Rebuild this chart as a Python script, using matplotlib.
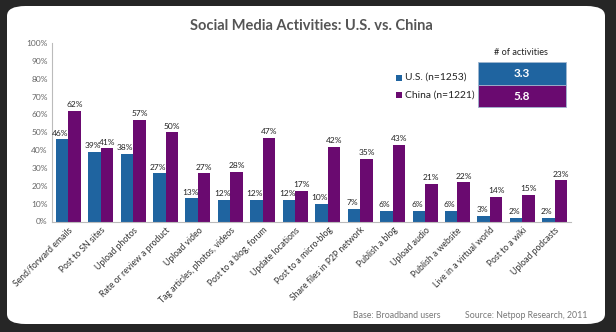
import matplotlib.pyplot as plt
from matplotlib.patches import FancyBboxPatch, Rectangle
import numpy as np

categories = ['Send/forward emails', 'Post to SN sites', 'Upload photos',
              'Rate or review a product', 'Upload video',
              'Tag articles, photos, videos', 'Post to a blog, forum',
              'Update locations', 'Post to a micro-blog',
              'Share files in P2P network', 'Publish a blog', 'Upload audio',
              'Publish a website', 'Live in a virtual world', 'Post to a wiki',
              'Upload podcasts']
us_values = [46, 39, 38, 27, 13, 12, 12, 12, 10, 7, 6, 6, 6, 3, 2, 2]
china_values = [62, 41, 57, 50, 27, 28, 47, 17, 42, 35, 43, 21, 22, 14, 15, 23]
series_names = ['U.S. (n=1253)', 'China (n=1221)']
activities = ['3.3', '5.8']
y_ticks = [0, 10, 20, 30, 40, 50, 60, 70, 80, 90, 100]

US_COLOR = '#1F64A0'
CN_COLOR = '#6A0A70'
FONT = ['Lato', 'DejaVu Sans']

plt.rcParams['font.family'] = FONT

W, H = 616, 332
fig = plt.figure(figsize=(W / 100, H / 100), dpi=100)
fig.patch.set_facecolor('#262626')

# white rounded panel behind everything
panel = FancyBboxPatch((7 / W, 1 - 324 / H), 598 / W, 318 / H,
                       boxstyle='round,pad=0,rounding_size=0.03',
                       transform=fig.transFigure, facecolor='white',
                       edgecolor='none', zorder=-5)
fig.patches.append(panel)

ax = fig.add_axes([52 / W, 1 - 221.5 / H, 519 / W, 178.5 / H])
ax.set_facecolor('none')

x = np.arange(len(categories))
bw = 0.385
ax.bar(x - bw / 2, us_values, bw, color=US_COLOR, label=series_names[0])
ax.bar(x + bw / 2, china_values, bw, color=CN_COLOR, label=series_names[1])

for i in range(len(categories)):
    ax.text(x[i] - bw / 2 - 0.05, us_values[i] + 1.5, f'{us_values[i]}%',
            ha='center', va='bottom', fontsize=6, color='#222222')
    ax.text(x[i] + bw / 2, china_values[i] + 1.5, f'{china_values[i]}%',
            ha='center', va='bottom', fontsize=6, color='#222222')

ax.set_xlim(-0.5, len(categories) - 0.5)
ax.set_ylim(0, 100)
ax.set_yticks(y_ticks)
ax.set_yticklabels([f'{t}%' for t in y_ticks], fontsize=6, color='#666666')
ax.set_xticks(x)
ax.set_xticklabels(categories, rotation=45, ha='right', rotation_mode='anchor',
                   fontsize=6.2, color='#333333')
ax.tick_params(axis='both', length=0, pad=3)
for s in ['top', 'right']:
    ax.spines[s].set_visible(False)
for s in ['left', 'bottom']:
    ax.spines[s].set_color('#BBBBBB')
    ax.spines[s].set_linewidth(0.8)

fig.text(311 / W, 1 - 26 / H, 'Social Media Activities: U.S. vs. China',
         ha='center', va='center', fontsize=10.5, fontweight='bold',
         color='#555555')

# legend
for i, (name, col) in enumerate(zip(series_names, [US_COLOR, CN_COLOR])):
    yc = 77.5 + i * 17.5
    fig.patches.append(Rectangle((396 / W, 1 - (yc + 3) / H), 6 / W, 6 / H,
                                 transform=fig.transFigure, facecolor=col,
                                 edgecolor='none'))
    fig.text(405 / W, 1 - yc / H, name, ha='left', va='center',
             fontsize=7.4, color='#222222')

# activities table
fig.text(521 / W, 1 - 52.5 / H, '# of activities', ha='center', va='center',
         fontsize=6.6, color='#222222')
for i, (val, col) in enumerate(zip(activities, [US_COLOR, CN_COLOR])):
    top = 62 + i * 22.5
    fig.patches.append(Rectangle((478 / W, 1 - (top + 22.5) / H), 88 / W,
                                 22.5 / H, transform=fig.transFigure,
                                 facecolor=col, edgecolor='#9FB6D0',
                                 linewidth=0.6))
    fig.text(522 / W, 1 - (top + 11.5) / H, val, ha='center', va='center',
             fontsize=8.5, fontweight='bold', color='white')

fig.text(397 / W, 1 - 315 / H, 'Base: Broadband users', ha='center',
         va='center', fontsize=6.3, color='#777777')
fig.text(526 / W, 1 - 315 / H, 'Source: Netpop Research, 2011', ha='center',
         va='center', fontsize=6.3, color='#777777')

fig.savefig('out.png', dpi=100, facecolor=fig.get_facecolor())
